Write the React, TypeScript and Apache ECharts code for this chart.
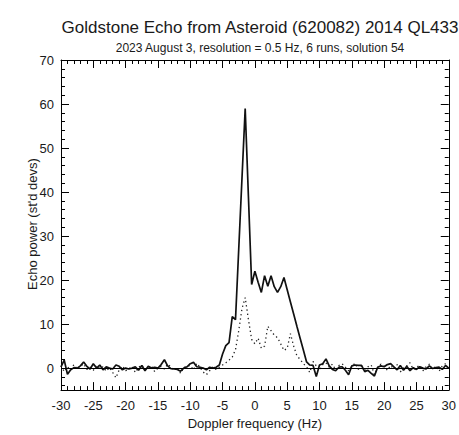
import React, { useEffect, useRef } from "react";
import * as echarts from "echarts";

const FONT = "'Liberation Sans', Arial, Helvetica, sans-serif";

const titleText = "Goldstone Echo from Asteroid (620082) 2014 QL433";
const subtitleText = "2023 August 3, resolution = 0.5 Hz, 6 runs, solution 54";
const xAxisName = "Doppler frequency (Hz)";
const yAxisName = "Echo power (st'd devs)";

const freqStart = -30;
const freqStep = 0.5;

// solid line (OC) segments
const solidLeftNoise = [
  0.3, 1.8, -1.4, -0.4, 0.1, 0, 0.5, 1.4, 0.4, -0.2, 1.0, 0, 0.7, -0.4, 0.3, 0, -0.2, 0.7, 0.4, -0.4, 0, -0.2, 0,
  0.3, -0.5, 0.6, -0.6, 0.4, 0, 0.2, 0, 0.8, 1.9, 0.5, -0.1, -0.2,
  -0.3, -0.7, 0, 0.3, 1.0, 1.3, 0.3, 0.2, 0, -0.4, 0.2, 0, 0.2,
];
const solidEcho = [
  0.7, 3.2, 5.1, 5.8, 11.7, 11, 27, 43, 59, 39, 19, 22, 19.5, 17.2, 21, 18.6, 21, 18.5, 17.2, 18.5, 20.6, 17.8, 15,
  12.3, 9.5, 6.8, 4.1, 1.4, 0.7, 0.6, -1.9,
];
const solidRightNoise = [
  0.7, 1.0, 2.1, 0.5, -0.3, -0.6, 0.2, 0.3, -0.5, -1.5, 0.5, 0.7, 0.6, 0.6, -0.8, -0.5, -1.2, -1.8, 0.2, 0.5, 0.3,
  0.8, 1.0, 0.3, -0.4, 0.6, -0.5, 0.4, -0.6, 0.1, -0.3, 0.3, 0, -0.2, 0.5, -0.1, 0.1, 0.2, -0.3, 0.6, 0,
];

// dotted line (SC) segments
const dottedLeftNoise = [
  0.5, -0.8, 0.3, -0.4, 0.8, -0.2, 0.4, 1.0, -0.3, 0.2, -0.5, 0.6, -0.1, 0.3, -0.7, 0.1, -1.0, -2.2, -0.4, 0.5,
  -0.6, -0.2, 0.4, -1.0, 0.2, 0.7, -0.3, 0.1, 0.5, -0.8, 0.0, 0.4, -0.2, 0.9, 0.3, -0.5, 0.2, -1.2, 0.1, 0.4, 0.6,
  -0.4, 1.1, 0.2, -0.9, -1.5, -0.6, 0.3,
];
const dottedEcho = [
  -0.3, 0.2, 0.7, 1.2, 1.8, 2.5, 4.2, 8.5, 13.5, 16, 11, 6.5, 5.5, 6.8, 4.5, 5, 9.5, 8.5, 7.5, 6.9, 5.5, 4, 4.5,
  7.8, 5, 2.8, 2, 1, 0.3, -1.0, 1.5, 0.5,
];
const dottedRightNoise = [
  -0.5, 0.8, 1.2, 0.2, 0.9, -0.4, 0.6, 1.0, 0.2, -0.6, 0.4, 1.1, -0.3, 0.5, -0.8, 0.3, 0.7, -1.5, 0.2, 0.9, 0.4,
  -0.5, 0.6, -0.2, 0.8, -0.9, 0.1, 0.5, 1.2, -0.3, 0.2, 0.6, -0.6, 0.3, 0.9, -0.2, 0.4, -0.7, 0.5, 1.0, -0.4,
];

const xTickLabels = [-30, -25, -20, -15, -10, -5, 0, 5, 10, 15, 20, 25, 30];
const yMajorTicks = [0, 10, 20, 30, 40, 50, 60, 70];
const yMinorTicks = [-4, -2, 2, 4, 6, 8, 12, 14, 16, 18, 22, 24, 26, 28, 32, 34, 36, 38, 42, 44, 46, 48, 52, 54, 56, 58, 62, 64, 66, 68];

const solid = [...solidLeftNoise, ...solidEcho, ...solidRightNoise];
const dotted = [...dottedLeftNoise, ...dottedEcho, ...dottedRightNoise];
const toPairs = (arr: number[]) => arr.map((v, i) => [freqStart + i * freqStep, v]);

export default function App() {
  const ref = useRef<HTMLDivElement>(null);
  useEffect(() => {
    const chart = echarts.init(ref.current!, null, { renderer: "svg" });
    const black = "#000";
    const txt = "#1a1a1a";
    const xBase = {
      type: "value",
      min: xTickLabels[0],
      max: xTickLabels[xTickLabels.length - 1],
      interval: 5,
      splitLine: { show: false },
      axisLine: { show: true, onZero: false, lineStyle: { color: black, width: 1 } },
      axisTick: { show: true, inside: true, length: 8, lineStyle: { color: black, width: 1 } },
      minorTick: { show: true, splitNumber: 5, length: 4, lineStyle: { color: black, width: 1 } },
    };
    const yBase = {
      type: "value",
      min: -5,
      max: 70,
      splitLine: { show: false },
    };
    const option: any = {
      animation: false,
      backgroundColor: "#fff",
      title: [
        {
          text: titleText,
          left: 255,
          top: 14,
          textAlign: "center",
          textStyle: { fontFamily: FONT, fontSize: 17, fontWeight: "normal", color: txt },
        },
        {
          text: subtitleText,
          left: 255,
          top: 37,
          textAlign: "center",
          textStyle: { fontFamily: FONT, fontSize: 12, fontWeight: "normal", color: txt },
        },
      ],
      graphic: [
        {
          type: "text",
          x: 32.5,
          y: 224,
          rotation: Math.PI / 2,
          style: {
            text: yAxisName,
            fill: txt,
            fontSize: 13,
            fontFamily: FONT,
            align: "center",
            verticalAlign: "middle",
          },
        },
      ],
      grid: { left: 61, right: 9, top: 60, bottom: 34, containLabel: false },
      xAxis: [
        {
          ...xBase,
          position: "bottom",
          axisLabel: { show: true, color: txt, fontSize: 13, fontFamily: FONT, margin: 9 },
          name: xAxisName,
          nameLocation: "middle",
          nameGap: 20,
          nameTextStyle: { color: txt, fontSize: 13, fontFamily: FONT },
        },
        { ...xBase, position: "top", axisLabel: { show: false } },
      ],
      yAxis: [
        {
          ...yBase,
          position: "left",
          axisLine: { show: true, onZero: false, lineStyle: { color: black, width: 1 } },
          axisTick: { show: true, inside: true, length: 8, customValues: yMajorTicks, lineStyle: { color: black } },
          axisLabel: { show: true, customValues: yMajorTicks, color: txt, fontSize: 13, fontFamily: FONT, margin: 7 },
        },
        {
          ...yBase,
          position: "left",
          axisLine: { show: false, onZero: false },
          axisTick: { show: true, inside: true, length: 4, customValues: yMinorTicks, lineStyle: { color: black } },
          axisLabel: { show: false },
        },
        {
          ...yBase,
          position: "right",
          axisLine: { show: true, onZero: false, lineStyle: { color: black, width: 1 } },
          axisTick: { show: true, inside: true, length: 8, customValues: yMajorTicks, lineStyle: { color: black } },
          axisLabel: { show: false },
        },
        {
          ...yBase,
          position: "right",
          axisLine: { show: false, onZero: false },
          axisTick: { show: true, inside: true, length: 4, customValues: yMinorTicks, lineStyle: { color: black } },
          axisLabel: { show: false },
        },
      ],
      series: [
        {
          name: "OC",
          type: "line",
          xAxisIndex: 0,
          yAxisIndex: 0,
          data: toPairs(solid),
          showSymbol: false,
          symbol: "none",
          lineStyle: { color: "#111", width: 1.7 },
          markLine: {
            silent: true,
            symbol: "none",
            label: { show: false },
            lineStyle: { color: black, width: 1, type: "solid" },
            data: [{ yAxis: 0 }],
          },
          z: 3,
        },
        {
          name: "SC",
          type: "line",
          xAxisIndex: 0,
          yAxisIndex: 0,
          data: toPairs(dotted),
          showSymbol: false,
          symbol: "none",
          lineStyle: { color: "#222", width: 1.3, type: [1.3, 3] },
          z: 2,
        },
      ],
    };
    chart.setOption(option);
    return () => chart.dispose();
  }, []);
  return <div ref={ref} style={{ position: "fixed", left: 0, top: 0, width: 459, height: 435 }} />;
}
